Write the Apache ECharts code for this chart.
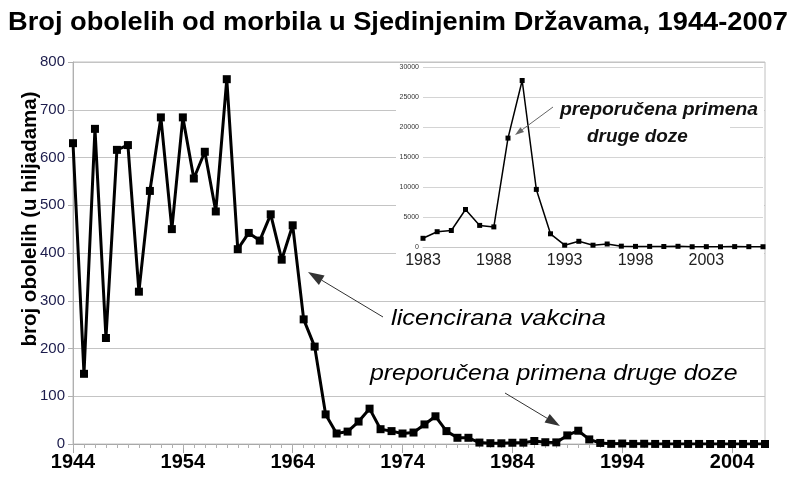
<!DOCTYPE html>
<html><head><meta charset="utf-8">
<script src="https://cdn.jsdelivr.net/npm/echarts@6/dist/echarts.min.js"></script>
<style>html,body{margin:0;padding:0;background:#fff}#c{width:800px;height:490px}</style>
</head><body><div id="c"></div>
<script>
// Main chart: cases in thousands, 1944-2007
const years = ['1944','1945','1946','1947','1948','1949','1950','1951','1952','1953','1954','1955','1956','1957','1958','1959','1960','1961','1962','1963','1964','1965','1966','1967','1968','1969','1970','1971','1972','1973','1974','1975','1976','1977','1978','1979','1980','1981','1982','1983','1984','1985','1986','1987','1988','1989','1990','1991','1992','1993','1994','1995','1996','1997','1998','1999','2000','2001','2002','2003','2004','2005','2006','2007'];
const casesThousands = [630,147,660,222,616,626,319,530,684,450,684,556,612,487,764,408,442,426,481,386,458,261,204,62,22,26,47,74,31,27,22,24,41,58,27,13,13,3,1.7,1.5,2.6,2.8,6.3,3.7,3.4,18,27.8,9.6,2.2,0.3,1.0,0.3,0.5,0.14,0.1,0.1,0.09,0.12,0.04,0.06,0.04,0.07,0.06,0.04];
const mainTicks = [0,100,200,300,400,500,600,700,800];
// Inset: cases, 1983-2007
const insetYears = ['1983','1984','1985','1986','1987','1988','1989','1990','1991','1992','1993','1994','1995','1996','1997','1998','1999','2000','2001','2002','2003','2004','2005','2006','2007'];
const insetCases = [1450,2550,2750,6250,3600,3350,18150,27750,9600,2200,300,950,300,500,140,100,100,86,116,44,56,37,66,55,43];

const chart = echarts.init(document.getElementById('c'));
const F = '"Liberation Sans", Arial, sans-serif';

function arrow(x1, y1, x2, y2, hl, hw, color, lw) {
  const dx = x2 - x1, dy = y2 - y1, L = Math.sqrt(dx*dx + dy*dy);
  const ux = dx / L, uy = dy / L;
  const bx = x2 - ux * hl, by = y2 - uy * hl;
  return [
    {type: 'line', z: 20, shape: {x1: x1, y1: y1, x2: bx, y2: by}, style: {stroke: color, lineWidth: lw}},
    {type: 'polygon', z: 20, shape: {points: [[x2, y2], [bx - uy*hw/2, by + ux*hw/2], [bx + uy*hw/2, by - ux*hw/2]]}, style: {fill: color}}
  ];
}

const option = {
  animation: false,
  backgroundColor: '#fff',
  grid: [
    {left: 73, right: 35, top: 62, bottom: 46, show: true, borderColor: '#c0c0c0', borderWidth: 1, z: 0},
    {left: 423, right: 37, top: 67, bottom: 243, z: 3},
    {left: 73, right: 35, top: 62, bottom: 46, z: 0}
  ],
  xAxis: [
    {gridIndex: 0, type: 'category', data: years, boundaryGap: false, z: 0,
     axisLine: {lineStyle: {color: '#a8a8a8'}},
     axisTick: {interval: 9, length: 9, lineStyle: {color: '#a8a8a8'}},
     axisLabel: {interval: 9, fontFamily: F, fontSize: 20, fontWeight: 'bold', color: '#000', margin: 8},
     splitLine: {show: false}},
    {gridIndex: 1, type: 'category', data: insetYears, boundaryGap: false, z: 3,
     axisLine: {lineStyle: {color: '#c8c8c8'}},
     axisTick: {show: false},
     axisLabel: {interval: 4, fontFamily: F, fontSize: 16, color: '#222', margin: 6},
     splitLine: {show: false}},
    {gridIndex: 2, type: 'category', data: years, boundaryGap: false, z: 0,
     axisLine: {show: false},
     axisTick: {interval: 0, length: 4, lineStyle: {color: '#b0b0b0'}},
     axisLabel: {show: false}}
  ],
  yAxis: [
    {gridIndex: 0, type: 'value', min: mainTicks[0], max: mainTicks[mainTicks.length-1], interval: 100, z: 0,
     axisLine: {show: true, lineStyle: {color: '#b0b0b0'}},
     axisTick: {show: true, length: 5, lineStyle: {color: '#b0b0b0'}},
     axisLabel: {fontFamily: F, fontSize: 15, color: '#1c1c4c', margin: 8},
     splitLine: {lineStyle: {color: '#c4c4c4'}}},
    {gridIndex: 1, type: 'value', min: 0, max: 30000, interval: 5000, z: 3,
     axisLine: {show: false}, axisTick: {show: false},
     axisLabel: {fontFamily: F, fontSize: 7, color: '#333', margin: 4, formatter: function (v) { return String(v); }},
     splitLine: {lineStyle: {color: '#d4d4d4'}}},
    {gridIndex: 2, type: 'value', min: 0, max: 800, show: false, splitLine: {show: false}}
  ],
  series: [
    {type: 'line', xAxisIndex: 0, yAxisIndex: 0, data: casesThousands, z: 2,
     symbol: 'rect', symbolSize: 8, showAllSymbol: true,
     lineStyle: {color: '#000', width: 3}, itemStyle: {color: '#000'}},
    {type: 'line', xAxisIndex: 1, yAxisIndex: 1, data: insetCases, z: 4,
     symbol: 'rect', symbolSize: 5, showAllSymbol: true,
     lineStyle: {color: '#000', width: 1.5}, itemStyle: {color: '#000'}}
  ],
  graphic: [
    {type: 'text', z: 21, x: 8, y: 23, scaleX: 1.09, style: {text: 'Broj obolelih od morbila u Sjedinjenim Državama, 1944-2007', font: 'bold 25px ' + F, fill: '#000', textVerticalAlign: 'middle'}},
    {type: 'text', z: 21, x: 30, y: 219, rotation: Math.PI / 2, style: {text: 'broj obolelih (u hiljadama)', font: 'bold 20.5px ' + F, fill: '#000', textAlign: 'center', textVerticalAlign: 'middle'}},
    {type: 'rect', z: 1, shape: {x: 396, y: 63, width: 368, height: 219}, style: {fill: '#fff'}},
    {type: 'rect', z: 5, shape: {x: 560, y: 101, width: 170, height: 46}, style: {fill: '#fff'}},
    {type: 'text', z: 21, x: 560, y: 110, scaleX: 1.076, style: {text: 'preporučena primena', font: 'italic bold 18px ' + F, fill: '#111', textVerticalAlign: 'middle'}},
    {type: 'text', z: 21, x: 587, y: 137, scaleX: 1.05, style: {text: 'druge doze', font: 'italic bold 18px ' + F, fill: '#111', textVerticalAlign: 'middle'}},
    {type: 'text', z: 21, x: 391, y: 319, scaleX: 1.156, style: {text: 'licencirana vakcina', font: 'italic 22px ' + F, fill: '#000', textVerticalAlign: 'middle'}},
    {type: 'text', z: 21, x: 370, y: 374, scaleX: 1.13, style: {text: 'preporučena primena druge doze', font: 'italic 22px ' + F, fill: '#000', textVerticalAlign: 'middle'}}
  ]
    .concat(arrow(383, 317, 308, 272, 16, 11, '#333', 1))
    .concat(arrow(505, 393, 560, 426, 15, 10, '#333', 1))
    .concat(arrow(553, 107, 515, 135, 9, 6, '#666', 1))
};
chart.setOption(option);
</script></body></html>
